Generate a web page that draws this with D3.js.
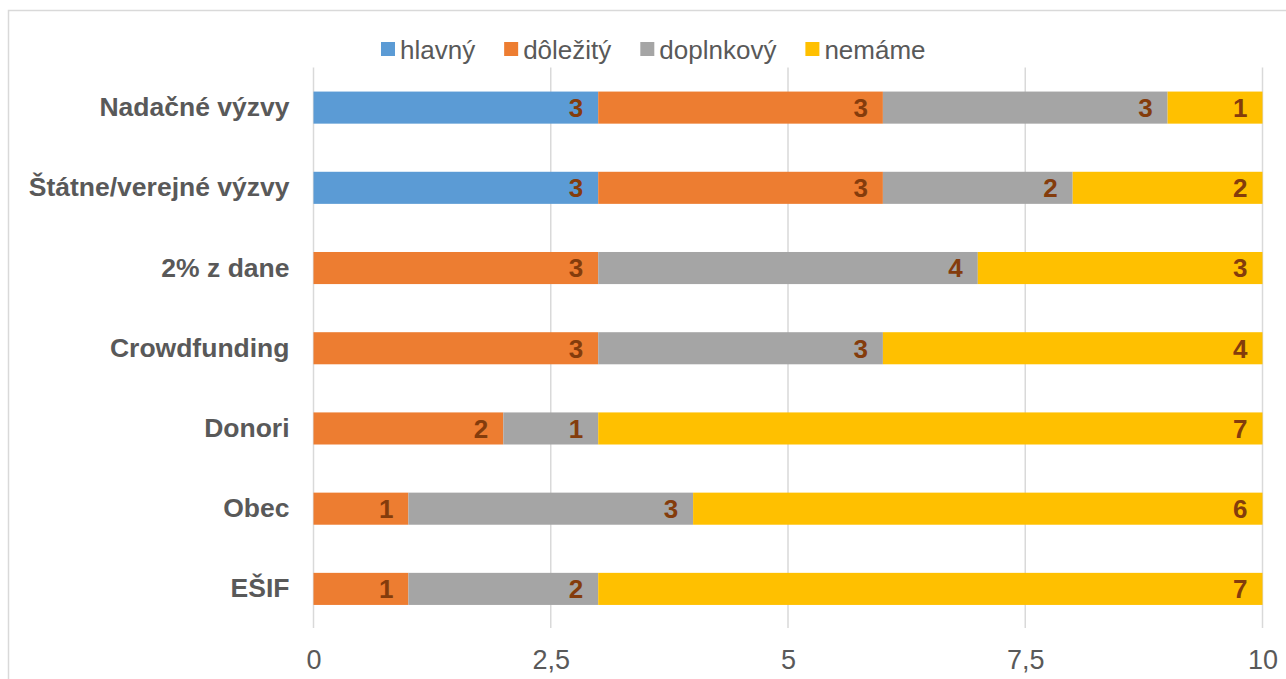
<!DOCTYPE html>
<html>
<head>
<meta charset="utf-8">
<script src="https://cdn.jsdelivr.net/npm/d3@7"></script>
<style>
  html, body { margin: 0; padding: 0; background: #fff; }
  svg { display: block; font-family: "Liberation Sans", Arial, sans-serif; }
</style>
</head>
<body>
<svg id="chart" width="1286" height="679"></svg>
<script>
// Funding sources and how important each one is for the organisations surveyed
const categories = ["Nadačné výzvy", "Štátne/verejné výzvy", "2% z dane", "Crowdfunding", "Donori", "Obec", "EŠIF"];
const seriesNames = ["hlavný", "dôležitý", "doplnkový", "nemáme"];
const hlavny    = [3, 3, 0, 0, 0, 0, 0];
const dolezity  = [3, 3, 3, 3, 2, 1, 1];
const doplnkovy = [3, 2, 4, 3, 1, 3, 2];
const nemame    = [1, 2, 3, 4, 7, 6, 7];
const tickValues = [0, 2.5, 5, 7.5, 10];
const colors = ["#5B9BD5", "#ED7D31", "#A5A5A5", "#FFC000"];

const table = categories.map((c, i) => ({
  category: c,
  "hlavný": hlavny[i],
  "dôležitý": dolezity[i],
  "doplnkový": doplnkovy[i],
  "nemáme": nemame[i]
}));

const svg = d3.select("#chart");
const W = 1286, H = 679;

// outer chart frame
svg.append("rect")
  .attr("x", 8.5).attr("y", 10.5)
  .attr("width", W + 10).attr("height", H + 10)
  .attr("fill", "#fff")
  .attr("stroke", "#D9D9D9").attr("stroke-width", 1.5);

const x = d3.scaleLinear().domain([0, 10]).range([313.5, 1262.5]);
const y = d3.scaleBand().domain(categories).range([67.5, 629]).paddingInner(0.6).paddingOuter(0.3);

// vertical gridlines
svg.append("g").selectAll("line")
  .data(tickValues)
  .join("line")
  .attr("x1", d => x(d)).attr("x2", d => x(d))
  .attr("y1", 67.5).attr("y2", 628)
  .attr("stroke", "#D9D9D9").attr("stroke-width", 1.5);

// value axis labels
const fmt = d => String(d).replace(".", ",");
const xAxis = d3.axisBottom(x).tickValues(tickValues).tickFormat(fmt).tickSize(0).tickPadding(0);
const gx = svg.append("g").attr("transform", "translate(0,650)").call(xAxis);
gx.select(".domain").remove();
gx.selectAll("text")
  .attr("fill", "#595959")
  .attr("font-size", 27)
  .attr("font-family", "Liberation Sans, Arial, sans-serif")
  .attr("dy", "0.71em");

// category labels
const yAxis = d3.axisLeft(y).tickSize(0).tickPadding(24);
const gy = svg.append("g").attr("transform", `translate(${x(0)},0)`).call(yAxis);
gy.select(".domain").remove();
gy.selectAll("text")
  .attr("fill", "#595959")
  .attr("font-size", 26.5)
  .attr("font-weight", "bold")
  .attr("font-family", "Liberation Sans, Arial, sans-serif");

// stacked bars
const stack = d3.stack().keys(seriesNames);
const layers = stack(table);

const layerG = svg.append("g").selectAll("g")
  .data(layers)
  .join("g")
  .attr("fill", (d, i) => colors[i]);

layerG.selectAll("rect")
  .data(d => d)
  .join("rect")
  .attr("x", d => x(d[0]))
  .attr("y", d => y(d.data.category))
  .attr("width", d => x(d[1]) - x(d[0]))
  .attr("height", y.bandwidth());

// value labels at the inner end of each segment
const labelG = svg.append("g")
  .attr("font-size", 26)
  .attr("font-weight", "bold")
  .attr("fill", "#843C0C")
  .attr("text-anchor", "end");

layers.forEach(layer => {
  layer.forEach(d => {
    const v = d[1] - d[0];
    if (v <= 0) return;
    labelG.append("text")
      .attr("x", x(d[1]) - 15)
      .attr("y", y(d.data.category) + y.bandwidth() / 2)
      .attr("dy", "0.36em")
      .text(v);
  });
});

// legend
const legend = svg.append("g").attr("font-size", 26).attr("fill", "#595959");
let lx = 381;
seriesNames.forEach((name, i) => {
  legend.append("rect")
    .attr("x", lx).attr("y", 42)
    .attr("width", 14).attr("height", 14)
    .attr("fill", colors[i]);
  const t = legend.append("text")
    .attr("x", lx + 19).attr("y", 58.5)
    .text(name);
  lx += 19 + t.node().getComputedTextLength() + 29;
});
</script>
</body>
</html>
